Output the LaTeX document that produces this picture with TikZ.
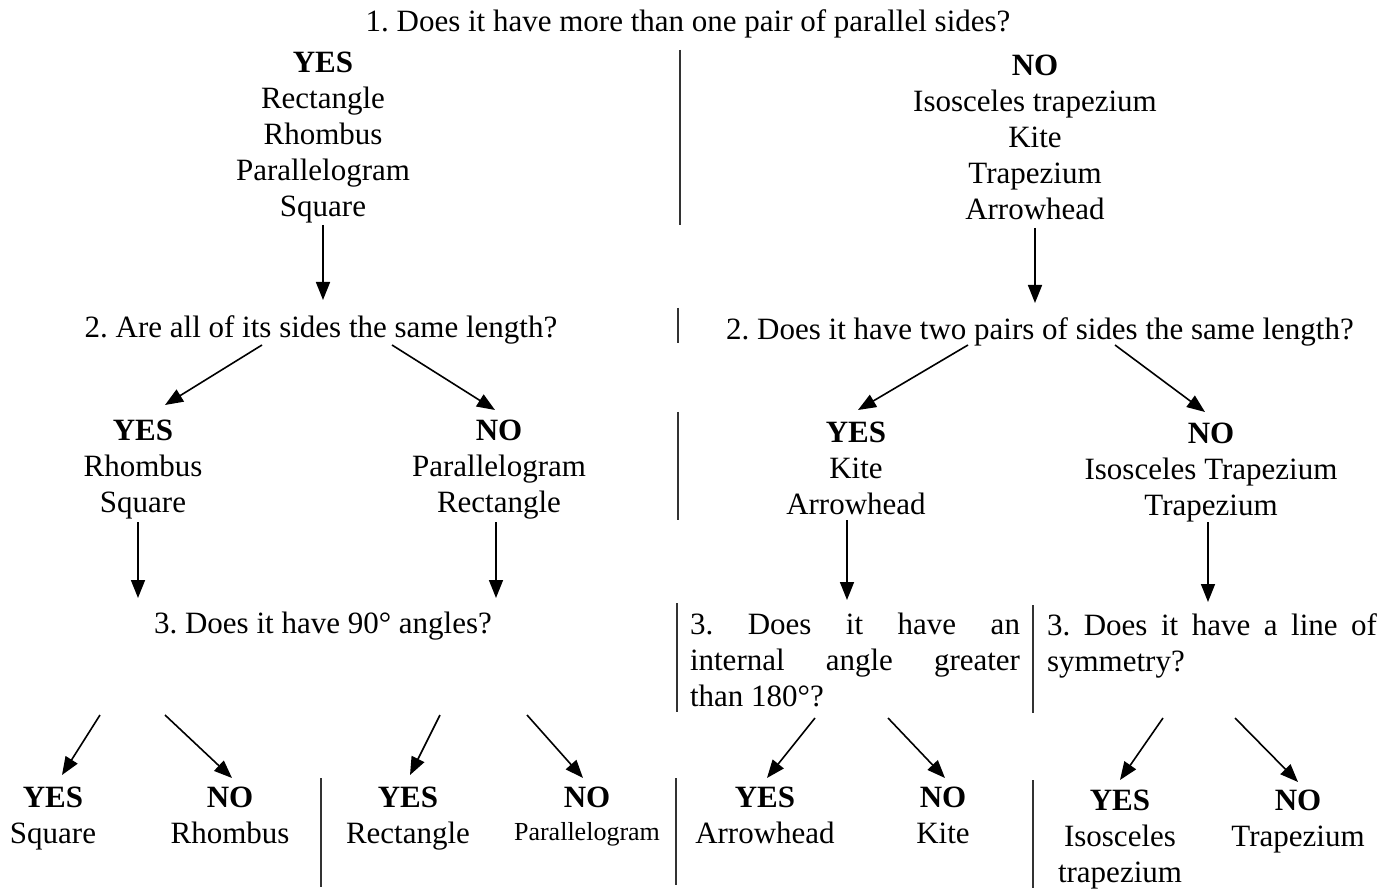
\documentclass[tikz,border=0pt]{standalone}
\usepackage{fontspec}
\setmainfont{Liberation Serif}
\usetikzlibrary{arrows.meta}
\newcommand\fs{\fontsize{31}{36}\selectfont\frenchspacing}
\newcommand\fsmall{\fontsize{26}{30}\selectfont}
\begin{document}
\begin{tikzpicture}[x=1pt,y=-1pt,
  txt/.style={inner sep=0pt, align=center, font=\fs},
  blk/.style={txt, anchor=north},
  para/.style={inner sep=0pt, text width=330pt, align=justify, font=\fs, anchor=north},
  arr/.style={line width=1.6pt, -{Triangle[length=18pt,width=14pt]}},
  div/.style={line width=1.1pt, black!80}]
\fill[white] (0,0) rectangle (1395,890);
\useasboundingbox (0,0) rectangle (1395,890);

% level 1
\node[txt] (q1) at (688,24) {1. Does it have more than one pair of parallel sides?};
\node[blk] (yes1) at (323,51.5) {\textbf{YES}\\Rectangle\\Rhombus\\Parallelogram\\Square};
\node[blk] (no1) at (1035,54.5) {\textbf{NO}\\Isosceles trapezium\\Kite\\Trapezium\\Arrowhead};

% level 2
\node[txt] (q2l) at (321,330) {2. Are all of its sides the same length?};
\node[txt] (q2r) at (1040,332) {2. Does it have two pairs of sides the same length?};
\node[blk] (yes2l) at (143,419.5) {\textbf{YES}\\Rhombus\\Square};
\node[blk] (no2l) at (499,419.5) {\textbf{NO}\\Parallelogram\\Rectangle};
\node[blk] (yes2r) at (856,421.5) {\textbf{YES}\\Kite\\Arrowhead};
\node[blk] (no2r) at (1211,422.5) {\textbf{NO}\\Isosceles Trapezium\\Trapezium};

% level 3
\node[txt] (q3l) at (323,626) {3. Does it have 90° angles?};
\node[para] (q3a) at (855,613) {3. Does it have an\linebreak internal angle greater\linebreak than 180°?};
\node[para] (q3b) at (1212,613) {3. Does it have a line of\linebreak symmetry?};

% bottom
\node[blk] (b1) at (53,786.5) {\textbf{YES}\\Square};
\node[blk] (b2) at (230,786.5) {\textbf{NO}\\Rhombus};
\node[blk] (b3) at (408,786.5) {\textbf{YES}\\Rectangle};
\node[blk] (b4) at (587,786.5) {\textbf{NO}\\[-3pt]{\fsmall Parallelogram}};
\node[blk] (b5) at (765,786.5) {\textbf{YES}\\Arrowhead};
\node[blk] (b6) at (943,786.5) {\textbf{NO}\\Kite};
\node[blk] (b7) at (1120,789.5) {\textbf{YES}\\Isosceles\\trapezium};
\node[blk] (b8) at (1298,789.5) {\textbf{NO}\\Trapezium};

% connector end points
\coordinate (a1s) at (323,225); \coordinate (a1e) at (323,300);
\coordinate (a2s) at (1035,228); \coordinate (a2e) at (1035,303);
\coordinate (g1s) at (262,345); \coordinate (g1e) at (165,405);
\coordinate (g2s) at (392,345); \coordinate (g2e) at (495,410);
\coordinate (g3s) at (968,345); \coordinate (g3e) at (858,410);
\coordinate (g4s) at (1115,345); \coordinate (g4e) at (1205,412);
\coordinate (v1s) at (138,522); \coordinate (v1e) at (138,598);
\coordinate (v2s) at (496,522); \coordinate (v2e) at (496,598);
\coordinate (v3s) at (847,520); \coordinate (v3e) at (847,600);
\coordinate (v4s) at (1208,522); \coordinate (v4e) at (1208,602);
\coordinate (k1s) at (100,715); \coordinate (k1e) at (62,775);
\coordinate (k2s) at (165,715); \coordinate (k2e) at (232,778);
\coordinate (k3s) at (440,715); \coordinate (k3e) at (410,775);
\coordinate (k4s) at (527,715); \coordinate (k4e) at (583,778);
\coordinate (k5s) at (815,718); \coordinate (k5e) at (767,778);
\coordinate (k6s) at (888,718); \coordinate (k6e) at (945,778);
\coordinate (k7s) at (1163,718); \coordinate (k7e) at (1120,780);
\coordinate (k8s) at (1235,718); \coordinate (k8e) at (1298,782);

\foreach \a in {a1,a2,g1,g2,g3,g4,v1,v2,v3,v4,k1,k2,k3,k4,k5,k6,k7,k8}
  \draw[arr] (\a s) -- (\a e);

% dividers
\coordinate (d1t) at (680,50);   \coordinate (d1b) at (680,225);
\coordinate (d2t) at (678,308);  \coordinate (d2b) at (678,343);
\coordinate (d3t) at (678,412);  \coordinate (d3b) at (678,520);
\coordinate (d4t) at (677,603);  \coordinate (d4b) at (677,712);
\coordinate (d5t) at (1033,605); \coordinate (d5b) at (1033,713);
\coordinate (d6t) at (321,778);  \coordinate (d6b) at (321,887);
\coordinate (d7t) at (676,778);  \coordinate (d7b) at (676,885);
\coordinate (d8t) at (1033,780); \coordinate (d8b) at (1033,888);
\foreach \d in {d1,d2,d3,d4,d5,d6,d7,d8}
  \draw[div] (\d t) -- (\d b);
\end{tikzpicture}
\end{document}
